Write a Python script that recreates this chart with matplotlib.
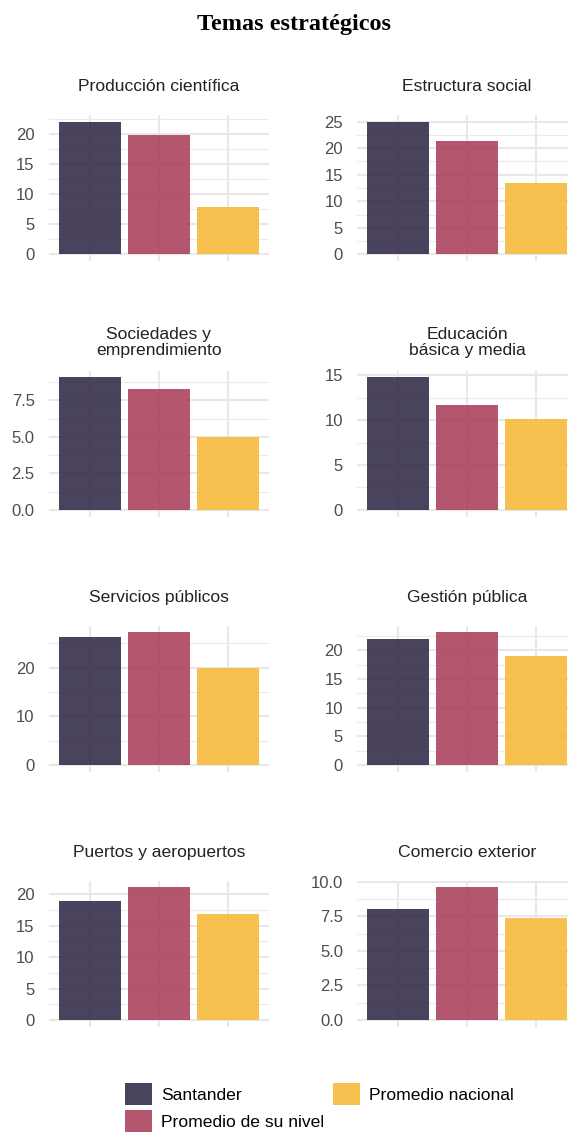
import matplotlib
matplotlib.use("Agg")
import matplotlib.pyplot as plt
from matplotlib.ticker import MultipleLocator, FormatStrFormatter, NullFormatter

plt.rcParams['font.family'] = ['Liberation Sans', 'DejaVu Sans']

# Data
series = ["Santander", "Promedio de su nivel", "Promedio nacional"]
temas = ["Producción científica", "Estructura social",
         "Sociedades y\nemprendimiento", "Educación\nbásica y media",
         "Servicios públicos", "Gestión pública",
         "Puertos y aeropuertos", "Comercio exterior"]
santander = [22.1, 25.0, 9.1, 14.8, 26.2, 21.9, 18.9, 8.0]
nivel = [19.8, 21.3, 8.3, 11.7, 27.2, 23.1, 21.1, 9.6]
nacional = [7.9, 13.4, 5.0, 10.1, 20.0, 19.0, 16.8, 7.4]
steps = [5, 5, 2.5, 5, 10, 5, 5, 2.5]

colors = ['#362e4c', '#ad435f', '#f7bb3d']
W, H = 568, 1138

fig = plt.figure(figsize=(W / 100, H / 100), dpi=100)
fig.text(294 / W, 1 - 30 / H, "Temas estratégicos", ha='center', va='baseline',
         fontsize=17.5, fontweight='bold', family='Liberation Serif')

col_x = [(48.6, 269.0), (357.0, 577.0)]
row_top = [115.0, 370.5, 625.8, 880.6]
panel_h = 146.0
title_pad = [17.0, 11.0, 17.0, 17.0]

handles = None
for i, tema in enumerate(temas):
    r, c = divmod(i, 2)
    x0, x1 = col_x[c]
    ax = fig.add_axes([x0 / W, 1 - (row_top[r] + panel_h) / H, (x1 - x0) / W, panel_h / H])
    vals = [santander[i], nivel[i], nacional[i]]
    bars = ax.bar([1, 2, 3], vals, width=0.9, color=colors, alpha=0.9, zorder=2)
    ymax = max(vals)
    ax.set_ylim(-0.05 * ymax, 1.05 * ymax)
    ax.set_xlim(0.4, 3.6)
    ax.set_xticks([1, 2, 3])
    ax.set_xticklabels([])
    ax.yaxis.set_major_locator(MultipleLocator(steps[i]))
    ax.yaxis.set_minor_locator(MultipleLocator(steps[i] / 2))
    ax.yaxis.set_major_formatter(FormatStrFormatter('%.1f' if steps[i] < 5 else '%d'))
    ax.yaxis.set_minor_formatter(NullFormatter())
    ax.tick_params(axis='both', which='both', length=0)
    ax.tick_params(axis='y', labelsize=12, labelcolor='#4d4d4d', pad=10)
    ax.grid(which='major', color='#e8e8e8', linewidth=1.5, zorder=0)
    ax.grid(which='minor', axis='y', color='#ebebeb', linewidth=0.8, zorder=0)
    ax.set_axisbelow(True)
    for s in ax.spines.values():
        s.set_visible(False)
    ax.set_title(tema, fontsize=12.6, color='#222222', pad=title_pad[r], linespacing=1.1)
    if handles is None:
        handles = bars

fig.legend(handles, series, loc='upper left', bbox_to_anchor=(125 / W, 1 - 1083 / H),
           ncol=2, frameon=False, fontsize=12.6, handlelength=1.55, handleheight=1.55,
           handletextpad=0.5, columnspacing=0.52, labelspacing=0.3,
           borderpad=0, borderaxespad=0)

fig.savefig("out.png", dpi=100)
